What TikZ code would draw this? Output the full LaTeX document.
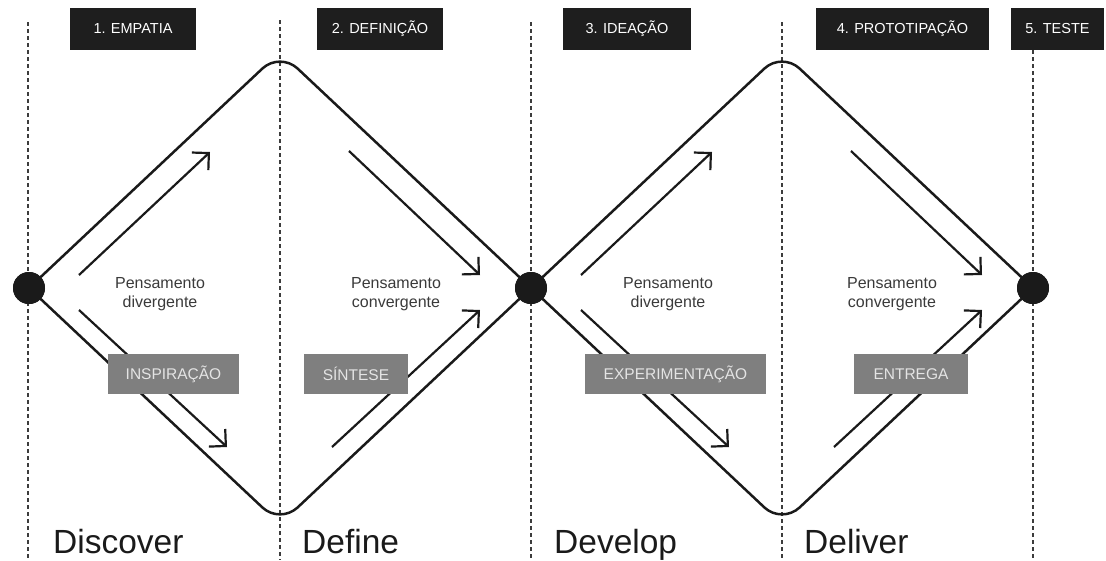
\documentclass[tikz,border=0pt]{standalone}
\usepackage{fontspec}
\setmainfont{Liberation Sans}
\usetikzlibrary{arrows.meta}
\definecolor{boxblack}{HTML}{1E1E1E}
\definecolor{boxgray}{HTML}{7F7F7F}
\definecolor{boxgraytext}{HTML}{E4E4E4}
\definecolor{labeltext}{HTML}{3A3A3A}
\definecolor{ink}{HTML}{1A1A1A}
\begin{document}
\begin{tikzpicture}[x=1pt,y=-1pt,
  phasebox/.style={fill=boxblack, text=white, inner sep=0pt, minimum height=42pt,
    font=\fontsize{14.5}{16}\selectfont},
  stagebox/.style={fill=boxgray, text=boxgraytext, inner sep=0pt, minimum height=40pt,
    font=\fontsize{15.5}{17}\selectfont},
  thinking/.style={text=labeltext, align=center, inner sep=0pt,
    font=\fontsize{16}{19}\selectfont},
  bigword/.style={text=ink, anchor=base west, inner sep=0pt,
    font=\fontsize{33.5}{36}\selectfont},
  guide/.style={draw=ink!85, line width=1.6pt, dash pattern=on 3.5pt off 3.5pt},
  outline/.style={draw=ink, line width=2.5pt, rounded corners=24pt},
  flow/.style={draw=ink, line width=2.2pt, -{Straight Barb[length=12pt,width=24pt,line width=2.2pt]}},
  hub/.style={circle, fill=ink, minimum size=32pt, inner sep=0pt}
]
\useasboundingbox (0,0) rectangle (1106,560);

% dotted guide lines
\draw[guide] (28,22) -- (28,560);
\draw[guide] (280,20) -- (280,560);
\draw[guide] (531,22) -- (531,560);
\draw[guide] (782,22) -- (782,560);
\draw[guide] (1033,50) -- (1033,560);

% hubs
\node[hub] (h1) at (29,288) {};
\node[hub] (h2) at (531,288) {};
\node[hub] (h3) at (1033,288) {};

% diamond corners
\coordinate (t1) at (280,52);
\coordinate (u1) at (280,524);
\coordinate (t2) at (782,52);
\coordinate (u2) at (782,524);

\draw[outline] (h1.center) -- (t1) -- (h2.center);
\draw[outline] (h1.center) -- (u1) -- (h2.center);
\draw[outline] (h2.center) -- (t2) -- (h3.center);
\draw[outline] (h2.center) -- (u2) -- (h3.center);

% inner arrows, first diamond
\coordinate (a1s) at (79,275);  \coordinate (a1e) at (210,152);
\coordinate (a2s) at (79,310);  \coordinate (a2e) at (227,447);
\coordinate (a3s) at (349,151); \coordinate (a3e) at (480,275);
\coordinate (a4s) at (332,447); \coordinate (a4e) at (480,310);
\draw[flow] (a1s) -- (a1e);
\draw[flow] (a2s) -- (a2e);
\draw[flow] (a3s) -- (a3e);
\draw[flow] (a4s) -- (a4e);

% inner arrows, second diamond
\coordinate (b1s) at (581,275);  \coordinate (b1e) at (712,152);
\coordinate (b2s) at (581,310);  \coordinate (b2e) at (729,447);
\coordinate (b3s) at (851,151);  \coordinate (b3e) at (982,275);
\coordinate (b4s) at (834,447);  \coordinate (b4e) at (982,310);
\draw[flow] (b1s) -- (b1e);
\draw[flow] (b2s) -- (b2e);
\draw[flow] (b3s) -- (b3e);
\draw[flow] (b4s) -- (b4e);

% redraw hubs on top
\node[hub] at (h1) {};
\node[hub] at (h2) {};
\node[hub] at (h3) {};

% thinking labels
\node[thinking] (p1) at (160,294) {Pensamento\\divergente};
\node[thinking] (p2) at (396,294) {Pensamento\\convergente};
\node[thinking] (p3) at (668,294) {Pensamento\\divergente};
\node[thinking] (p4) at (892,294) {Pensamento\\convergente};

% gray stage boxes
\node[stagebox, minimum width=131pt] (g1) at (173.5,374) {INSPIRAÇÃO};
\node[stagebox, minimum width=104pt] (g2) at (356,374) {SÍNTESE};
\node[stagebox, minimum width=181pt] (g3) at (675.5,374) {EXPERIMENTAÇÃO};
\node[stagebox, minimum width=114pt] (g4) at (911,374) {ENTREGA};

% black phase boxes
\node[phasebox, minimum width=126pt] (k1) at (133,29) {1. EMPATIA};
\node[phasebox, minimum width=126pt] (k2) at (380,29) {2. DEFINIÇÃO};
\node[phasebox, minimum width=128pt] (k3) at (627,29) {3. IDEAÇÃO};
\node[phasebox, minimum width=173pt] (k4) at (902.5,29) {4. PROTOTIPAÇÃO};
\node[phasebox, minimum width=93pt] (k5) at (1057.5,29) {5. TESTE};

% bottom words
\node[bigword] (w1) at (53,553) {Discover};
\node[bigword] (w2) at (302,553) {Define};
\node[bigword] (w3) at (554,553) {Develop};
\node[bigword] (w4) at (804,553) {Deliver};
\end{tikzpicture}
\end{document}
